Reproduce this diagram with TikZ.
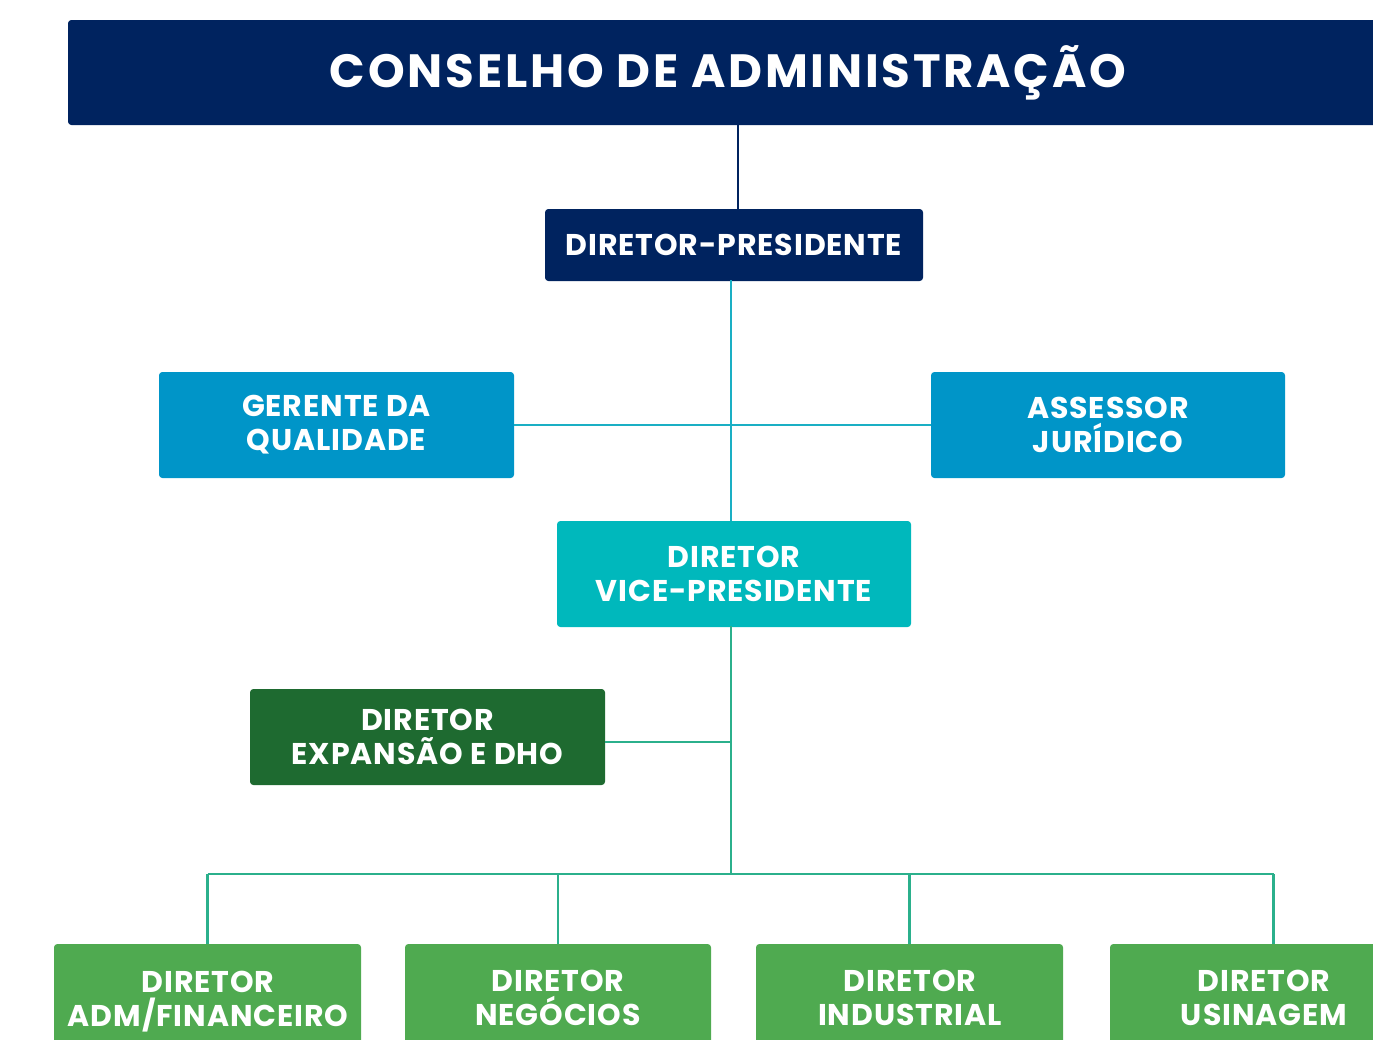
\documentclass[tikz,border=0pt]{standalone}
\usepackage{fontspec}
\setmainfont{Poppins}
\newfontfamily\titlefont[LetterSpace=6]{Poppins}
\newfontfamily\boxfont[LetterSpace=3]{Poppins}
\definecolor{navy}{HTML}{00235F}
\definecolor{qblue}{HTML}{0095C8}
\definecolor{vteal}{HTML}{00B8BC}
\definecolor{dgreen}{HTML}{1E6A30}
\definecolor{lgreen}{HTML}{4FAA50}
\definecolor{lineblue}{HTML}{1AAFC4}
\definecolor{linegreen}{HTML}{2BB08C}
\begin{document}
\begin{tikzpicture}[x=0.75pt,y=-0.75pt,
  box/.style={rectangle, rounded corners=2.5pt, text=white, align=center,
    font=\boxfont\bfseries\fontsize{22.5}{25.5}\selectfont, inner sep=0pt},
  conn/.style={line width=2.2pt}]
\useasboundingbox (0,0) rectangle (1373,1039);
\node[box, fill=navy, minimum width=1340*0.75pt, minimum height=105*0.75pt] (cons) at (738,72.5) {};
\node[text=white, font=\titlefont\bfseries\fontsize{35}{40}\selectfont, inner sep=0pt] (constext) at (728,72.5) {CONSELHO DE ADMINISTRAÇÃO};
\node[box, fill=navy, minimum width=378*0.75pt, minimum height=72*0.75pt] (pres) at (734,245) {DIRETOR-PRESIDENTE};
\node[box, fill=qblue, minimum width=355*0.75pt, minimum height=106*0.75pt] (ger) at (336.5,425) {GERENTE DA\\QUALIDADE};
\node[box, fill=qblue, minimum width=354*0.75pt, minimum height=106*0.75pt] (ass) at (1108,425) {ASSESSOR\\JURÍDICO};
\node[box, fill=vteal, minimum width=354*0.75pt, minimum height=106*0.75pt] (vice) at (734,574) {DIRETOR\\VICE-PRESIDENTE};
\node[box, fill=dgreen, minimum width=355*0.75pt, minimum height=96*0.75pt] (exp) at (427.5,737) {DIRETOR\\EXPANSÃO E DHO};
\node[box, fill=lgreen, minimum width=307*0.75pt, minimum height=120*0.75pt] (adm) at (207.5,1004) {};
\node[box, fill=lgreen, minimum width=306*0.75pt, minimum height=120*0.75pt] (neg) at (558,1004) {};
\node[box, fill=lgreen, minimum width=307*0.75pt, minimum height=120*0.75pt] (ind) at (909.5,1004) {};
\node[box, fill=lgreen, minimum width=327*0.75pt, minimum height=120*0.75pt] (usi) at (1273.5,1004) {};
\node[box] (admt) at (208,1001.5) {DIRETOR\\ADM/FINANCEIRO};
\node[box] (negt) at (558,998) {DIRETOR\\NEGÓCIOS};
\node[box] (indt) at (910,998) {DIRETOR\\INDUSTRIAL};
\node[box] (usit) at (1264,998) {DIRETOR\\USINAGEM};
\coordinate (bus) at (731,874);
% connectors
\draw[conn, navy] (cons.south) -- (cons.south |- pres.north);
\draw[conn, lineblue] (731,280) coordinate (ps) -- (ps |- vice.north);
\draw[conn, lineblue] (ger.east) -- (ass.west);
\draw[conn, linegreen] (731,626) coordinate (vs) -- (bus);
\draw[conn, linegreen] ([yshift=-3.75pt]exp.east) -- ([yshift=-3.75pt]exp.east -| vs);
\draw[conn, linegreen] (bus -| adm.north) -- (bus -| usi.north);
\draw[conn, linegreen] (bus -| adm.north) -- (adm.north);
\draw[conn, linegreen] (bus -| neg.north) -- (neg.north);
\draw[conn, linegreen] (bus -| ind.north) -- (ind.north);
\draw[conn, linegreen] (bus -| usi.north) -- (usi.north);
\end{tikzpicture}
\end{document}
